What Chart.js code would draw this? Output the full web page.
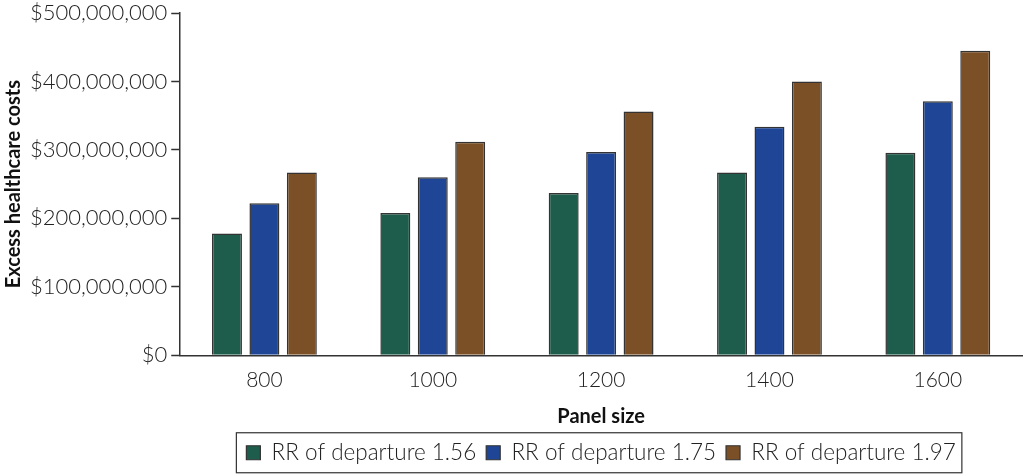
<!DOCTYPE html>
<html>
<head>
<meta charset="utf-8">
<script src="https://cdn.jsdelivr.net/npm/chart.js@4"></script>
<style>
  html, body { margin: 0; padding: 0; background: #fff; }
  #wrap { width: 1024px; height: 474px; position: relative; }
</style>
</head>
<body>
<div id="wrap"><canvas id="costChart"></canvas></div>
<script>
// 数据
const panelSizes = ['800', '1000', '1200', '1400', '1600'];
const seriesNames = ['RR of departure 1.56', 'RR of departure 1.75', 'RR of departure 1.97'];
const rr156 = [178000000, 208000000, 237000000, 267000000, 296000000];
const rr175 = [222000000, 260000000, 297000000, 334000000, 371000000];
const rr197 = [267000000, 312000000, 356000000, 400000000, 445000000];
const barColors = ['#1e5c4b', '#1f4696', '#7b5026'];

const fontFamily = 'Lato, "Open Sans", sans-serif';

// 图例外框
const legendBox = {
    id: 'legendBox',
    afterDraw(chart) {
        const lg = chart.legend;
        if (!lg || !lg.legendHitBoxes.length) return;
        const boxes = lg.legendHitBoxes;
        const left = boxes[0].left - 10;
        const last = boxes[boxes.length - 1];
        const right = last.left + last.width + 6;
        const mid = boxes[0].top + boxes[0].height / 2;
        const c = chart.ctx;
        c.save();
        c.strokeStyle = '#333';
        c.lineWidth = 1.2;
        c.strokeRect(left, mid - 20, right - left, 40);
        c.restore();
    }
};

const ctx = document.getElementById('costChart');
new Chart(ctx.getContext('2d'), {
    type: 'bar',
    data: {
        labels: panelSizes,
        datasets: [rr156, rr175, rr197].map((d, i) => ({
            label: seriesNames[i],
            data: d,
            backgroundColor: barColors[i],
            borderColor: '#333',
            borderWidth: 1.5,
            barPercentage: 0.8,
            categoryPercentage: 0.667
        }))
    },
    options: {
        responsive: true,
        maintainAspectRatio: false,
        animation: false,
        layout: { padding: { top: 13, right: 2, bottom: 0, left: 0 } },
        plugins: {
            legend: {
                position: 'bottom',
                fullSize: false,
                labels: {
                    color: '#222',
                    font: { family: fontFamily, size: 22.5, weight: 300 },
                    boxWidth: 14,
                    boxHeight: 14,
                    padding: 10,
                    generateLabels(chart) {
                        return chart.data.datasets.map((ds, i) => ({
                            text: ds.label,
                            fillStyle: ds.backgroundColor,
                            strokeStyle: '#333',
                            lineWidth: 1.2,
                            datasetIndex: i,
                            fontColor: '#222'
                        }));
                    }
                }
            },
            tooltip: { enabled: false }
        },
        scales: {
            x: {
                grid: { display: false, drawTicks: false },
                border: { color: '#333', width: 1.5 },
                ticks: { color: '#222', padding: 12, font: { family: fontFamily, size: 21, weight: 300 } },
                title: {
                    display: true,
                    text: 'Panel size',
                    color: '#111',
                    padding: { top: 0, bottom: 3 },
                    font: { family: fontFamily, size: 20, weight: 'bold' }
                }
            },
            y: {
                min: 0,
                max: 500000000,
                afterFit: s => { s.paddingTop = 0; },
                grid: { drawOnChartArea: false, tickLength: 9, color: '#333', tickWidth: 1.5 },
                border: { color: '#333', width: 1.5 },
                ticks: {
                    stepSize: 100000000,
                    color: '#222',
                    padding: 4,
                    font: { family: fontFamily, size: 22, weight: 300 },
                    callback: v => '$' + Number(v).toLocaleString('en-US')
                },
                title: {
                    display: true,
                    text: 'Excess healthcare costs',
                    color: '#111',
                    padding: { top: 2, bottom: 0 },
                    font: { family: fontFamily, size: 20, weight: 'bold' }
                }
            }
        }
    },
    plugins: [legendBox]
});
</script>
</body>
</html>
